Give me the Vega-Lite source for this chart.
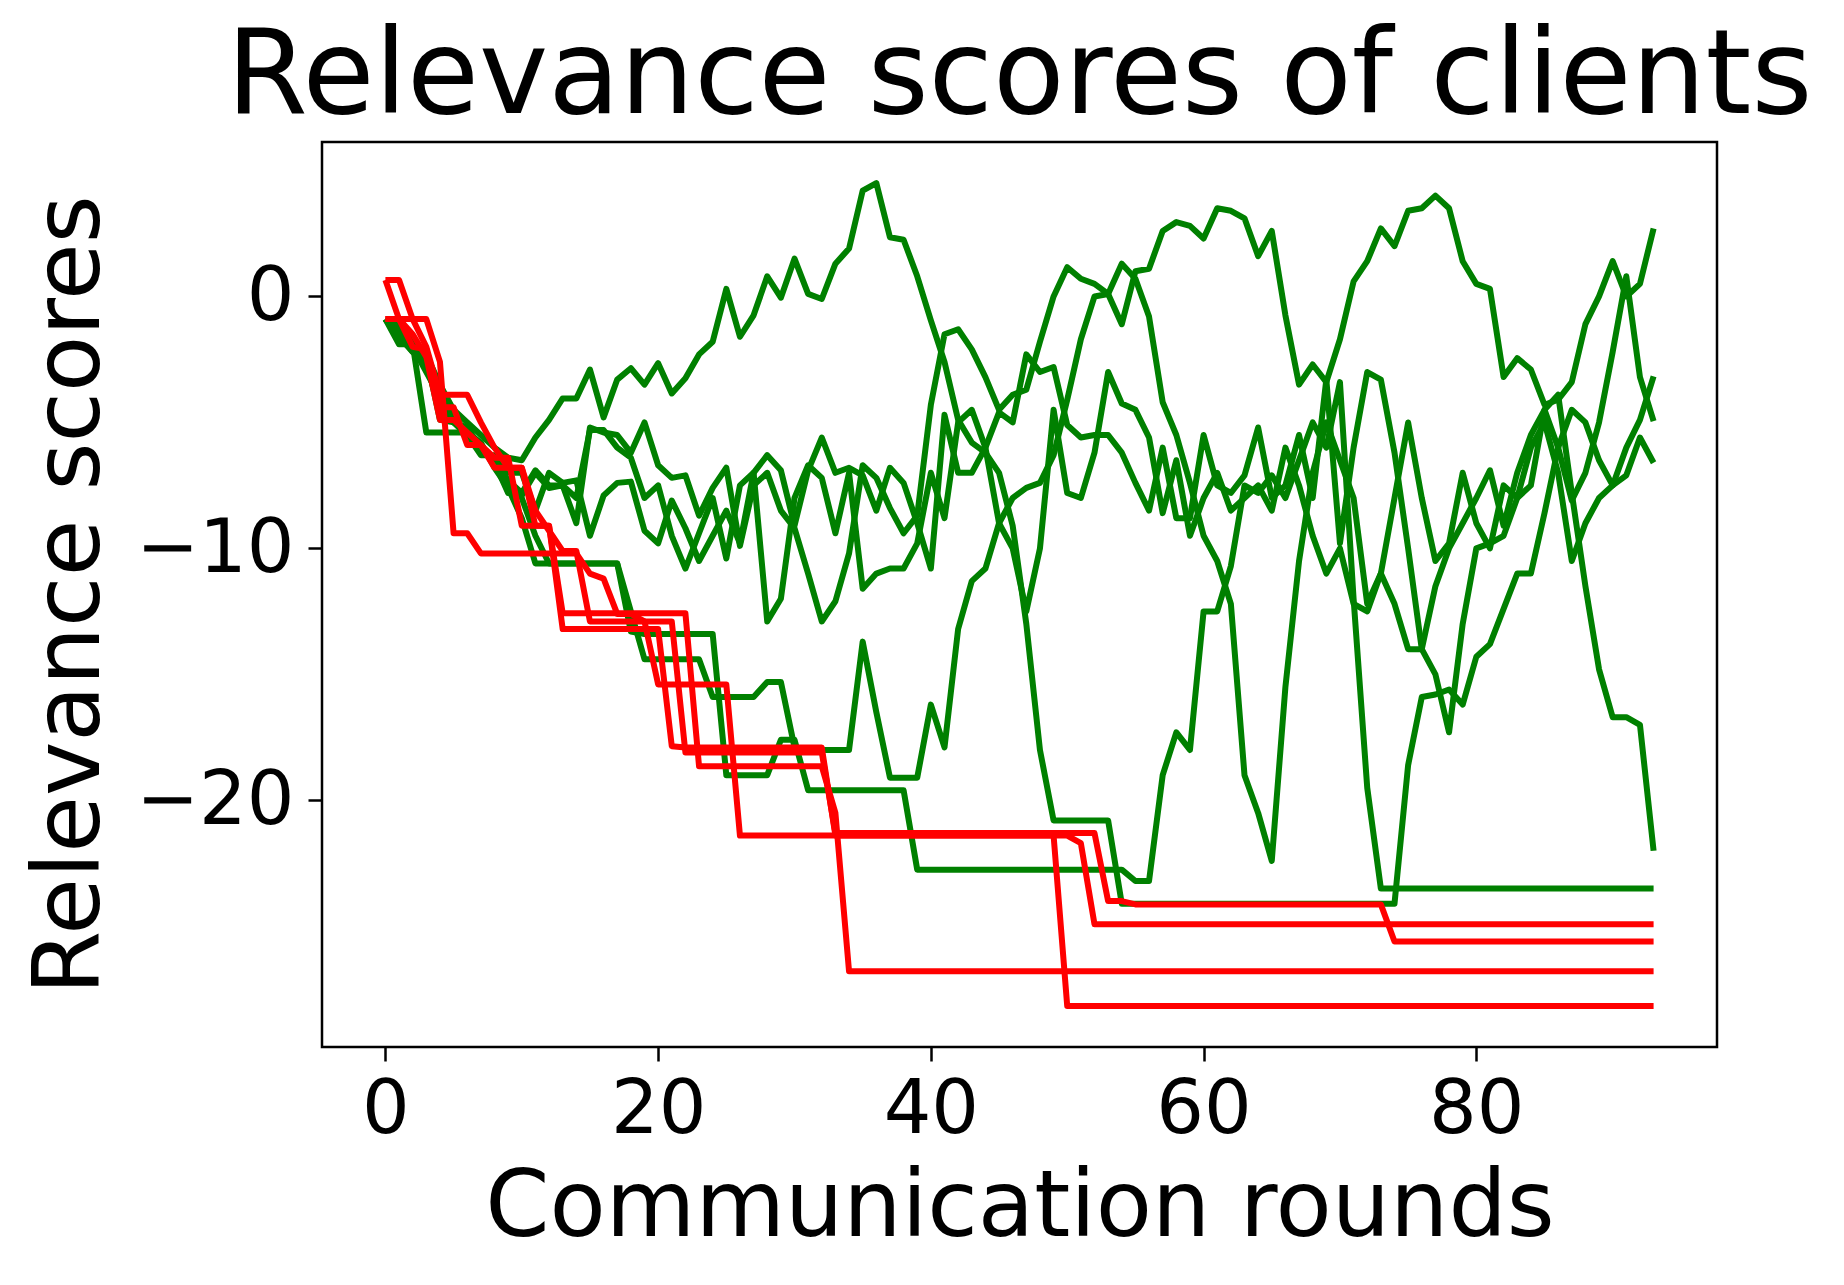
{
"$schema":"https://vega.github.io/schema/vega-lite/v6.json",
"width":1395,"height":905,
"autosize":{"type":"none"},
"padding":{"left":322,"top":142,"right":127,"bottom":238},
"background":"white",
"config":{"view":{"stroke":"black","strokeWidth":2.5},"font":"DejaVu Sans"},
"title":{"text":"Relevance scores of clients","fontSize":117,"font":"DejaVu Sans","fontWeight":"normal","anchor":"middle","baseline":"alphabetic","offset":22,"dy":110,"color":"black"},
"data":{"values":[
{"round":0,"g1":-0.9,"g2":-0.9,"g3":-0.9,"g4":-0.9,"g5":-0.9,"g6":-0.9,"r1":0.65,"r2":0.65,"r3":-0.9,"r4":-0.9},
{"round":1,"g1":-1.2,"g2":-1.6,"g3":-1.9,"g4":-1.5,"g5":-1.3,"g6":-1.0,"r1":0.65,"r2":-0.9,"r3":-0.9,"r4":-0.9},
{"round":2,"g1":-1.8,"g2":-2.2,"g3":-1.9,"g4":-2.2,"g5":-2.0,"g6":-2.0,"r1":-0.9,"r2":-2.0,"r3":-1.5,"r4":-0.9},
{"round":3,"g1":-2.3,"g2":-2.6,"g3":-5.4,"g4":-2.4,"g5":-3.0,"g6":-2.8,"r1":-2.0,"r2":-2.1,"r3":-2.4,"r4":-0.9},
{"round":4,"g1":-3.5,"g2":-4.6,"g3":-5.4,"g4":-4.9,"g5":-4.0,"g6":-3.8,"r1":-3.9,"r2":-4.4,"r3":-4.9,"r4":-2.6},
{"round":5,"g1":-4.5,"g2":-5.0,"g3":-5.4,"g4":-5.0,"g5":-5.0,"g6":-4.6,"r1":-3.9,"r2":-4.4,"r3":-4.9,"r4":-9.4},
{"round":6,"g1":-5.0,"g2":-5.5,"g3":-5.4,"g4":-5.2,"g5":-5.5,"g6":-5.6,"r1":-3.9,"r2":-5.9,"r3":-5.4,"r4":-9.4},
{"round":7,"g1":-5.5,"g2":-5.9,"g3":-5.8,"g4":-6.0,"g5":-6.3,"g6":-6.0,"r1":-5.0,"r2":-5.9,"r3":-5.9,"r4":-10.2},
{"round":8,"g1":-6.0,"g2":-6.7,"g3":-6.8,"g4":-6.6,"g5":-6.3,"g6":-6.6,"r1":-6.0,"r2":-6.4,"r3":-6.8,"r4":-10.2},
{"round":9,"g1":-6.4,"g2":-7.3,"g3":-7.6,"g4":-7.3,"g5":-7.0,"g6":-7.8,"r1":-6.8,"r2":-6.4,"r3":-6.8,"r4":-10.2},
{"round":10,"g1":-6.5,"g2":-7.8,"g3":-8.8,"g4":-8.0,"g5":-7.0,"g6":-7.9,"r1":-6.8,"r2":-9.1,"r3":-6.8,"r4":-10.2},
{"round":11,"g1":-5.6,"g2":-6.9,"g3":-10.6,"g4":-9.5,"g5":-8.5,"g6":-7.0,"r1":-9.1,"r2":-9.1,"r3":-8.5,"r4":-10.2},
{"round":12,"g1":-4.9,"g2":-7.5,"g3":-10.6,"g4":-10.6,"g5":-7.0,"g6":-7.6,"r1":-9.1,"r2":-9.1,"r3":-9.3,"r4":-10.2},
{"round":13,"g1":-4.05,"g2":-7.5,"g3":-10.6,"g4":-10.6,"g5":-7.4,"g6":-7.5,"r1":-12.57,"r2":-13.2,"r3":-10.1,"r4":-10.2},
{"round":14,"g1":-4.05,"g2":-9.0,"g3":-10.6,"g4":-10.6,"g5":-7.3,"g6":-8.0,"r1":-12.57,"r2":-13.2,"r3":-10.1,"r4":-10.2},
{"round":15,"g1":-2.9,"g2":-5.2,"g3":-10.6,"g4":-10.6,"g5":-9.5,"g6":-5.3,"r1":-12.57,"r2":-13.2,"r3":-12.9,"r4":-11.0},
{"round":16,"g1":-4.8,"g2":-5.4,"g3":-10.6,"g4":-10.6,"g5":-7.9,"g6":-5.3,"r1":-12.57,"r2":-13.2,"r3":-12.9,"r4":-11.2},
{"round":17,"g1":-3.3,"g2":-5.5,"g3":-10.6,"g4":-10.6,"g5":-7.4,"g6":-6.0,"r1":-12.57,"r2":-13.2,"r3":-12.9,"r4":-12.6},
{"round":18,"g1":-2.85,"g2":-6.2,"g3":-13.3,"g4":-12.5,"g5":-7.35,"g6":-6.4,"r1":-12.57,"r2":-13.2,"r3":-12.9,"r4":-12.6},
{"round":19,"g1":-3.5,"g2":-5.0,"g3":-13.4,"g4":-14.4,"g5":-9.3,"g6":-8.0,"r1":-12.57,"r2":-13.2,"r3":-12.9,"r4":-12.9},
{"round":20,"g1":-2.65,"g2":-6.7,"g3":-13.4,"g4":-14.4,"g5":-9.8,"g6":-7.5,"r1":-12.57,"r2":-13.2,"r3":-12.9,"r4":-15.4},
{"round":21,"g1":-3.85,"g2":-7.2,"g3":-13.4,"g4":-14.4,"g5":-8.1,"g6":-9.5,"r1":-12.57,"r2":-17.85,"r3":-12.9,"r4":-15.4},
{"round":22,"g1":-3.25,"g2":-7.1,"g3":-13.4,"g4":-14.4,"g5":-9.2,"g6":-10.8,"r1":-12.57,"r2":-17.9,"r3":-18.1,"r4":-15.4},
{"round":23,"g1":-2.3,"g2":-8.7,"g3":-13.4,"g4":-14.4,"g5":-10.5,"g6":-9.4,"r1":-18.65,"r2":-17.9,"r3":-18.1,"r4":-15.4},
{"round":24,"g1":-1.8,"g2":-7.6,"g3":-13.4,"g4":-15.9,"g5":-9.5,"g6":-8.0,"r1":-18.65,"r2":-17.9,"r3":-18.1,"r4":-15.4},
{"round":25,"g1":0.3,"g2":-6.8,"g3":-19.0,"g4":-15.9,"g5":-8.5,"g6":-10.4,"r1":-18.65,"r2":-17.9,"r3":-18.1,"r4":-15.4},
{"round":26,"g1":-1.6,"g2":-9.9,"g3":-19.0,"g4":-15.9,"g5":-9.8,"g6":-7.5,"r1":-18.65,"r2":-17.9,"r3":-18.1,"r4":-21.4},
{"round":27,"g1":-0.75,"g2":-7.5,"g3":-19.0,"g4":-15.9,"g5":-7.0,"g6":-7.0,"r1":-18.65,"r2":-17.9,"r3":-18.1,"r4":-21.4},
{"round":28,"g1":0.8,"g2":-7.0,"g3":-19.0,"g4":-15.3,"g5":-6.3,"g6":-12.9,"r1":-18.65,"r2":-17.9,"r3":-18.1,"r4":-21.4},
{"round":29,"g1":-0.05,"g2":-8.5,"g3":-17.6,"g4":-15.3,"g5":-6.9,"g6":-12.0,"r1":-18.65,"r2":-17.9,"r3":-18.1,"r4":-21.4},
{"round":30,"g1":1.5,"g2":-9.2,"g3":-17.6,"g4":-17.9,"g5":-9.1,"g6":-8.0,"r1":-18.65,"r2":-17.9,"r3":-18.1,"r4":-21.4},
{"round":31,"g1":0.1,"g2":-11.0,"g3":-19.6,"g4":-18.0,"g5":-6.9,"g6":-6.7,"r1":-18.65,"r2":-17.9,"r3":-18.1,"r4":-21.4},
{"round":32,"g1":-0.1,"g2":-12.9,"g3":-19.6,"g4":-18.0,"g5":-5.6,"g6":-7.2,"r1":-18.65,"r2":-17.9,"r3":-18.1,"r4":-21.4},
{"round":33,"g1":1.3,"g2":-12.1,"g3":-19.6,"g4":-18.0,"g5":-7.0,"g6":-9.4,"r1":-20.5,"r2":-21.4,"r3":-21.3,"r4":-21.4},
{"round":34,"g1":1.9,"g2":-10.2,"g3":-19.6,"g4":-18.0,"g5":-6.8,"g6":-7.0,"r1":-26.78,"r2":-21.4,"r3":-21.3,"r4":-21.4},
{"round":35,"g1":4.2,"g2":-6.7,"g3":-19.6,"g4":-13.7,"g5":-7.1,"g6":-11.6,"r1":-26.78,"r2":-21.4,"r3":-21.3,"r4":-21.4},
{"round":36,"g1":4.5,"g2":-7.2,"g3":-19.6,"g4":-16.5,"g5":-8.5,"g6":-11.0,"r1":-26.78,"r2":-21.4,"r3":-21.3,"r4":-21.4},
{"round":37,"g1":2.35,"g2":-8.4,"g3":-19.6,"g4":-19.1,"g5":-6.8,"g6":-10.8,"r1":-26.78,"r2":-21.4,"r3":-21.3,"r4":-21.4},
{"round":38,"g1":2.25,"g2":-9.4,"g3":-19.6,"g4":-19.1,"g5":-7.4,"g6":-10.8,"r1":-26.78,"r2":-21.4,"r3":-21.3,"r4":-21.4},
{"round":39,"g1":0.8,"g2":-8.7,"g3":-22.75,"g4":-19.1,"g5":-9.0,"g6":-9.8,"r1":-26.78,"r2":-21.4,"r3":-21.3,"r4":-21.4},
{"round":40,"g1":-0.95,"g2":-4.3,"g3":-22.75,"g4":-16.2,"g5":-10.8,"g6":-7.0,"r1":-26.78,"r2":-21.4,"r3":-21.3,"r4":-21.4},
{"round":41,"g1":-2.6,"g2":-1.5,"g3":-22.75,"g4":-17.9,"g5":-4.7,"g6":-8.8,"r1":-26.78,"r2":-21.4,"r3":-21.3,"r4":-21.4},
{"round":42,"g1":-4.9,"g2":-1.3,"g3":-22.75,"g4":-13.2,"g5":-7.0,"g6":-5.0,"r1":-26.78,"r2":-21.4,"r3":-21.3,"r4":-21.4},
{"round":43,"g1":-5.8,"g2":-2.1,"g3":-22.75,"g4":-11.3,"g5":-7.0,"g6":-4.5,"r1":-26.78,"r2":-21.4,"r3":-21.3,"r4":-21.4},
{"round":44,"g1":-6.2,"g2":-3.2,"g3":-22.75,"g4":-10.8,"g5":-6.0,"g6":-6.0,"r1":-26.78,"r2":-21.4,"r3":-21.3,"r4":-21.4},
{"round":45,"g1":-7.0,"g2":-4.5,"g3":-22.75,"g4":-9.0,"g5":-4.6,"g6":-9.0,"r1":-26.78,"r2":-21.4,"r3":-21.3,"r4":-21.4},
{"round":46,"g1":-9.1,"g2":-3.9,"g3":-22.75,"g4":-8.0,"g5":-5.0,"g6":-10.0,"r1":-26.78,"r2":-21.4,"r3":-21.3,"r4":-21.4},
{"round":47,"g1":-13.0,"g2":-3.7,"g3":-22.75,"g4":-7.6,"g5":-2.3,"g6":-12.5,"r1":-26.78,"r2":-21.4,"r3":-21.3,"r4":-21.4},
{"round":48,"g1":-18.0,"g2":-1.8,"g3":-22.75,"g4":-7.4,"g5":-3.0,"g6":-10.0,"r1":-26.78,"r2":-21.4,"r3":-21.3,"r4":-21.4},
{"round":49,"g1":-20.8,"g2":0.0,"g3":-22.75,"g4":-6.3,"g5":-2.8,"g6":-4.5,"r1":-26.78,"r2":-21.4,"r3":-21.3,"r4":-21.4},
{"round":50,"g1":-20.8,"g2":1.16,"g3":-22.75,"g4":-4.1,"g5":-5.1,"g6":-7.8,"r1":-26.78,"r2":-21.4,"r3":-21.3,"r4":-28.16},
{"round":51,"g1":-20.8,"g2":0.7,"g3":-22.75,"g4":-1.7,"g5":-5.6,"g6":-8.0,"r1":-26.78,"r2":-21.7,"r3":-21.3,"r4":-28.16},
{"round":52,"g1":-20.8,"g2":0.5,"g3":-22.75,"g4":0.0,"g5":-5.5,"g6":-6.2,"r1":-26.78,"r2":-24.92,"r3":-21.3,"r4":-28.16},
{"round":53,"g1":-20.8,"g2":0.1,"g3":-22.75,"g4":0.1,"g5":-5.5,"g6":-3.0,"r1":-26.78,"r2":-24.92,"r3":-24.0,"r4":-28.16},
{"round":54,"g1":-24.1,"g2":-1.1,"g3":-22.75,"g4":1.3,"g5":-6.2,"g6":-4.25,"r1":-26.78,"r2":-24.92,"r3":-24.0,"r4":-28.16},
{"round":55,"g1":-24.1,"g2":1.0,"g3":-23.2,"g4":0.7,"g5":-7.4,"g6":-4.5,"r1":-26.78,"r2":-24.92,"r3":-24.13,"r4":-28.16},
{"round":56,"g1":-24.1,"g2":1.1,"g3":-23.2,"g4":-0.8,"g5":-8.5,"g6":-5.6,"r1":-26.78,"r2":-24.92,"r3":-24.13,"r4":-28.16},
{"round":57,"g1":-24.1,"g2":2.6,"g3":-19.0,"g4":-4.2,"g5":-6.0,"g6":-8.6,"r1":-26.78,"r2":-24.92,"r3":-24.13,"r4":-28.16},
{"round":58,"g1":-24.1,"g2":2.95,"g3":-17.3,"g4":-5.5,"g5":-8.8,"g6":-6.5,"r1":-26.78,"r2":-24.92,"r3":-24.13,"r4":-28.16},
{"round":59,"g1":-24.1,"g2":2.8,"g3":-18.0,"g4":-7.4,"g5":-8.8,"g6":-9.5,"r1":-26.78,"r2":-24.92,"r3":-24.13,"r4":-28.16},
{"round":60,"g1":-24.1,"g2":2.3,"g3":-12.5,"g4":-9.5,"g5":-5.5,"g6":-8.0,"r1":-26.78,"r2":-24.92,"r3":-24.13,"r4":-28.16},
{"round":61,"g1":-24.1,"g2":3.5,"g3":-12.5,"g4":-10.5,"g5":-7.5,"g6":-7.0,"r1":-26.78,"r2":-24.92,"r3":-24.13,"r4":-28.16},
{"round":62,"g1":-24.1,"g2":3.4,"g3":-10.7,"g4":-12.2,"g5":-7.8,"g6":-8.5,"r1":-26.78,"r2":-24.92,"r3":-24.13,"r4":-28.16},
{"round":63,"g1":-24.1,"g2":3.1,"g3":-7.5,"g4":-19.0,"g5":-7.1,"g6":-8.0,"r1":-26.78,"r2":-24.92,"r3":-24.13,"r4":-28.16},
{"round":64,"g1":-24.1,"g2":1.6,"g3":-7.8,"g4":-20.5,"g5":-5.2,"g6":-7.5,"r1":-26.78,"r2":-24.92,"r3":-24.13,"r4":-28.16},
{"round":65,"g1":-24.1,"g2":2.6,"g3":-7.1,"g4":-22.4,"g5":-8.0,"g6":-8.5,"r1":-26.78,"r2":-24.92,"r3":-24.13,"r4":-28.16},
{"round":66,"g1":-24.1,"g2":-0.75,"g3":-8.0,"g4":-15.5,"g5":-7.5,"g6":-6.0,"r1":-26.78,"r2":-24.92,"r3":-24.13,"r4":-28.16},
{"round":67,"g1":-24.1,"g2":-3.5,"g3":-6.5,"g4":-10.5,"g5":-5.5,"g6":-7.5,"r1":-26.78,"r2":-24.92,"r3":-24.13,"r4":-28.16},
{"round":68,"g1":-24.1,"g2":-2.7,"g3":-5.0,"g4":-7.0,"g5":-8.0,"g6":-9.5,"r1":-26.78,"r2":-24.92,"r3":-24.13,"r4":-28.16},
{"round":69,"g1":-24.1,"g2":-3.4,"g3":-6.0,"g4":-5.0,"g5":-3.3,"g6":-11.0,"r1":-26.78,"r2":-24.92,"r3":-24.13,"r4":-28.16},
{"round":70,"g1":-24.1,"g2":-1.7,"g3":-3.4,"g4":-6.5,"g5":-9.8,"g6":-10.0,"r1":-26.78,"r2":-24.92,"r3":-24.13,"r4":-28.16},
{"round":71,"g1":-24.1,"g2":0.6,"g3":-12.0,"g4":-8.0,"g5":-6.0,"g6":-12.2,"r1":-26.78,"r2":-24.92,"r3":-24.13,"r4":-28.16},
{"round":72,"g1":-24.1,"g2":1.4,"g3":-19.5,"g4":-12.2,"g5":-3.0,"g6":-12.5,"r1":-26.78,"r2":-24.92,"r3":-24.13,"r4":-28.16},
{"round":73,"g1":-24.1,"g2":2.7,"g3":-23.5,"g4":-11.0,"g5":-3.3,"g6":-11.0,"r1":-26.78,"r2":-24.92,"r3":-24.13,"r4":-28.16},
{"round":74,"g1":-24.1,"g2":2.0,"g3":-23.5,"g4":-12.2,"g5":-6.2,"g6":-8.0,"r1":-26.78,"r2":-24.92,"r3":-25.6,"r4":-28.16},
{"round":75,"g1":-18.6,"g2":3.4,"g3":-23.5,"g4":-14.0,"g5":-10.0,"g6":-5.0,"r1":-26.78,"r2":-24.92,"r3":-25.6,"r4":-28.16},
{"round":76,"g1":-15.9,"g2":3.5,"g3":-23.5,"g4":-14.0,"g5":-14.0,"g6":-8.0,"r1":-26.78,"r2":-24.92,"r3":-25.6,"r4":-28.16},
{"round":77,"g1":-15.8,"g2":4.0,"g3":-23.5,"g4":-11.5,"g5":-15.0,"g6":-10.5,"r1":-26.78,"r2":-24.92,"r3":-25.6,"r4":-28.16},
{"round":78,"g1":-15.6,"g2":3.5,"g3":-23.5,"g4":-10.0,"g5":-17.3,"g6":-9.8,"r1":-26.78,"r2":-24.92,"r3":-25.6,"r4":-28.16},
{"round":79,"g1":-16.2,"g2":1.4,"g3":-23.5,"g4":-9.0,"g5":-13.0,"g6":-7.0,"r1":-26.78,"r2":-24.92,"r3":-25.6,"r4":-28.16},
{"round":80,"g1":-14.3,"g2":0.5,"g3":-23.5,"g4":-8.0,"g5":-10.0,"g6":-9.0,"r1":-26.78,"r2":-24.92,"r3":-25.6,"r4":-28.16},
{"round":81,"g1":-13.8,"g2":0.3,"g3":-23.5,"g4":-6.9,"g5":-9.8,"g6":-10.0,"r1":-26.78,"r2":-24.92,"r3":-25.6,"r4":-28.16},
{"round":82,"g1":-12.4,"g2":-3.2,"g3":-23.5,"g4":-9.1,"g5":-9.5,"g6":-7.5,"r1":-26.78,"r2":-24.92,"r3":-25.6,"r4":-28.16},
{"round":83,"g1":-11.0,"g2":-2.45,"g3":-23.5,"g4":-7.0,"g5":-8.0,"g6":-8.0,"r1":-26.78,"r2":-24.92,"r3":-25.6,"r4":-28.16},
{"round":84,"g1":-11.0,"g2":-2.9,"g3":-23.5,"g4":-5.5,"g5":-7.5,"g6":-6.0,"r1":-26.78,"r2":-24.92,"r3":-25.6,"r4":-28.16},
{"round":85,"g1":-8.6,"g2":-4.3,"g3":-23.5,"g4":-4.5,"g5":-4.5,"g6":-5.0,"r1":-26.78,"r2":-24.92,"r3":-25.6,"r4":-28.16},
{"round":86,"g1":-6.0,"g2":-4.1,"g3":-23.5,"g4":-3.9,"g5":-6.0,"g6":-7.0,"r1":-26.78,"r2":-24.92,"r3":-25.6,"r4":-28.16},
{"round":87,"g1":-4.5,"g2":-3.4,"g3":-23.5,"g4":-7.8,"g5":-8.1,"g6":-10.5,"r1":-26.78,"r2":-24.92,"r3":-25.6,"r4":-28.16},
{"round":88,"g1":-5.0,"g2":-1.1,"g3":-23.5,"g4":-11.5,"g5":-7.0,"g6":-9.0,"r1":-26.78,"r2":-24.92,"r3":-25.6,"r4":-28.16},
{"round":89,"g1":-6.5,"g2":0.0,"g3":-23.5,"g4":-14.8,"g5":-5.0,"g6":-8.0,"r1":-26.78,"r2":-24.92,"r3":-25.6,"r4":-28.16},
{"round":90,"g1":-7.5,"g2":1.4,"g3":-23.5,"g4":-16.7,"g5":-2.2,"g6":-7.5,"r1":-26.78,"r2":-24.92,"r3":-25.6,"r4":-28.16},
{"round":91,"g1":-7.1,"g2":0.0,"g3":-23.5,"g4":-16.7,"g5":0.8,"g6":-6.0,"r1":-26.78,"r2":-24.92,"r3":-25.6,"r4":-28.16},
{"round":92,"g1":-5.6,"g2":0.5,"g3":-23.5,"g4":-17.0,"g5":-3.2,"g6":-4.9,"r1":-26.78,"r2":-24.92,"r3":-25.6,"r4":-28.16},
{"round":93,"g1":-6.6,"g2":2.7,"g3":-23.5,"g4":-22.0,"g5":-4.95,"g6":-3.17,"r1":-26.78,"r2":-24.92,"r3":-25.6,"r4":-28.16}
]},
"transform":[{"fold":["g1","g2","g3","g4","g5","g6","r1","r2","r3","r4"],"as":["client","score"]}],
"mark":{"type":"line","strokeWidth":6,"strokeJoin":"round","strokeCap":"butt"},
"encoding":{
"x":{"field":"round","type":"quantitative","scale":{"domain":[-4.65,97.65],"nice":false,"zero":false},
"axis":{"values":[0,20,40,60,80],"title":"Communication rounds","grid":false,"domain":false,"tickSize":14,"tickWidth":2.5,"tickColor":"black","labelFontSize":75,"labelColor":"black","labelFont":"DejaVu Sans","labelPadding":12,"labelFlush":false,"labelOverlap":false,"titleFontSize":92,"titleFontWeight":"normal","titleColor":"black","titleFont":"DejaVu Sans","titleBaseline":"alphabetic","titleAlign":"center","titleX":697.5,"titleY":188}},
"y":{"field":"score","type":"quantitative","scale":{"domain":[-29.79,6.13],"nice":false,"zero":false},
"axis":{"values":[0,-10,-20],"title":"Relevance scores","grid":false,"domain":false,"tickSize":14,"tickWidth":2.5,"tickColor":"black","labelFontSize":75,"labelColor":"black","labelFont":"DejaVu Sans","labelPadding":14,"labelOverlap":false,"titleFontSize":92,"titleFontWeight":"normal","titleColor":"black","titleFont":"DejaVu Sans","titleAngle":270,"titleBaseline":"alphabetic","titleAlign":"center","titleX":-224,"titleY":452.5}},
"color":{"field":"client","type":"nominal","scale":{"domain":["g1","g2","g3","g4","g5","g6","r1","r2","r3","r4"],"range":["#008000","#008000","#008000","#008000","#008000","#008000","#ff0000","#ff0000","#ff0000","#ff0000"]},"legend":null}
}
}
